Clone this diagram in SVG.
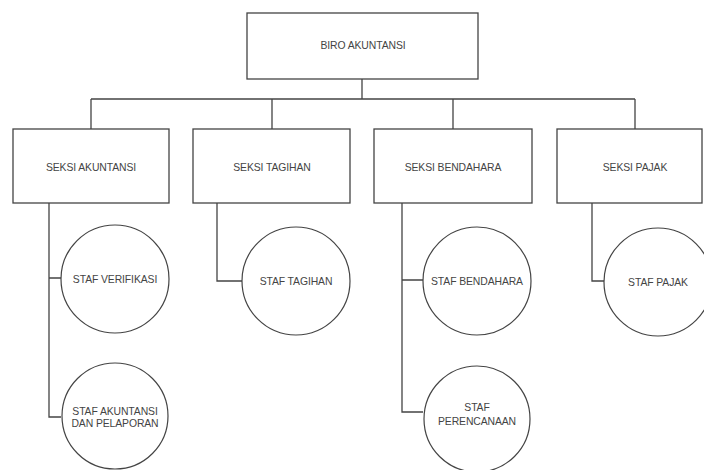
<svg xmlns="http://www.w3.org/2000/svg" width="704" height="470" viewBox="0 0 704 470">
<style>
.box{fill:#fff;stroke:#444;stroke-width:1.3}
.circ{fill:#fff;stroke:#444;stroke-width:1.2}
.ln{fill:none;stroke:#444;stroke-width:1.3}
text{font-family:"Liberation Sans",Arial,sans-serif;font-size:10.4px;fill:#444;text-anchor:middle;dominant-baseline:central;letter-spacing:-0.1px}
</style>
<rect width="704" height="470" fill="#fff"/>
<g id="connectors">
<path class="ln" d="M362 79V99M91 99H635M91 99V129M272 99V129M453 99V129M635 99V129"/>
<path class="ln" d="M49 203V417H61M49 278H61"/>
<path class="ln" d="M217 203V281H242"/>
<path class="ln" d="M402 203V412H423M402 280H423"/>
<path class="ln" d="M592 203V281H604"/>
</g>
<g id="biro"><rect class="box" x="247" y="13" width="231" height="66"/><text x="363" y="45">BIRO AKUNTANSI</text></g>
<g id="seksi-akuntansi"><rect class="box" x="13" y="129" width="156" height="74"/><text x="91" y="167">SEKSI AKUNTANSI</text></g>
<g id="seksi-tagihan"><rect class="box" x="193" y="129" width="157" height="74"/><text x="272" y="167">SEKSI TAGIHAN</text></g>
<g id="seksi-bendahara"><rect class="box" x="374" y="129" width="158" height="74"/><text x="453" y="167">SEKSI BENDAHARA</text></g>
<g id="seksi-pajak"><rect class="box" x="557" y="129" width="145" height="74"/><text x="635" y="167">SEKSI PAJAK</text></g>
<g id="staf-verifikasi"><circle class="circ" cx="115" cy="279" r="54"/><text x="115" y="279">STAF VERIFIKASI</text></g>
<g id="staf-akuntansi"><circle class="circ" cx="115" cy="416" r="53"/><text x="115" y="411">STAF AKUNTANSI</text><text x="115" y="423">DAN PELAPORAN</text></g>
<g id="staf-tagihan"><circle class="circ" cx="296" cy="281" r="54"/><text x="296" y="281">STAF TAGIHAN</text></g>
<g id="staf-bendahara"><circle class="circ" cx="477" cy="281" r="54"/><text x="477" y="281">STAF BENDAHARA</text></g>
<g id="staf-perencanaan"><circle class="circ" cx="477" cy="419" r="53"/><text x="477" y="407">STAF</text><text x="477" y="421">PERENCANAAN</text></g>
<g id="staf-pajak"><circle class="circ" cx="658" cy="282" r="54"/><text x="658" y="282">STAF PAJAK</text></g>
</svg>
